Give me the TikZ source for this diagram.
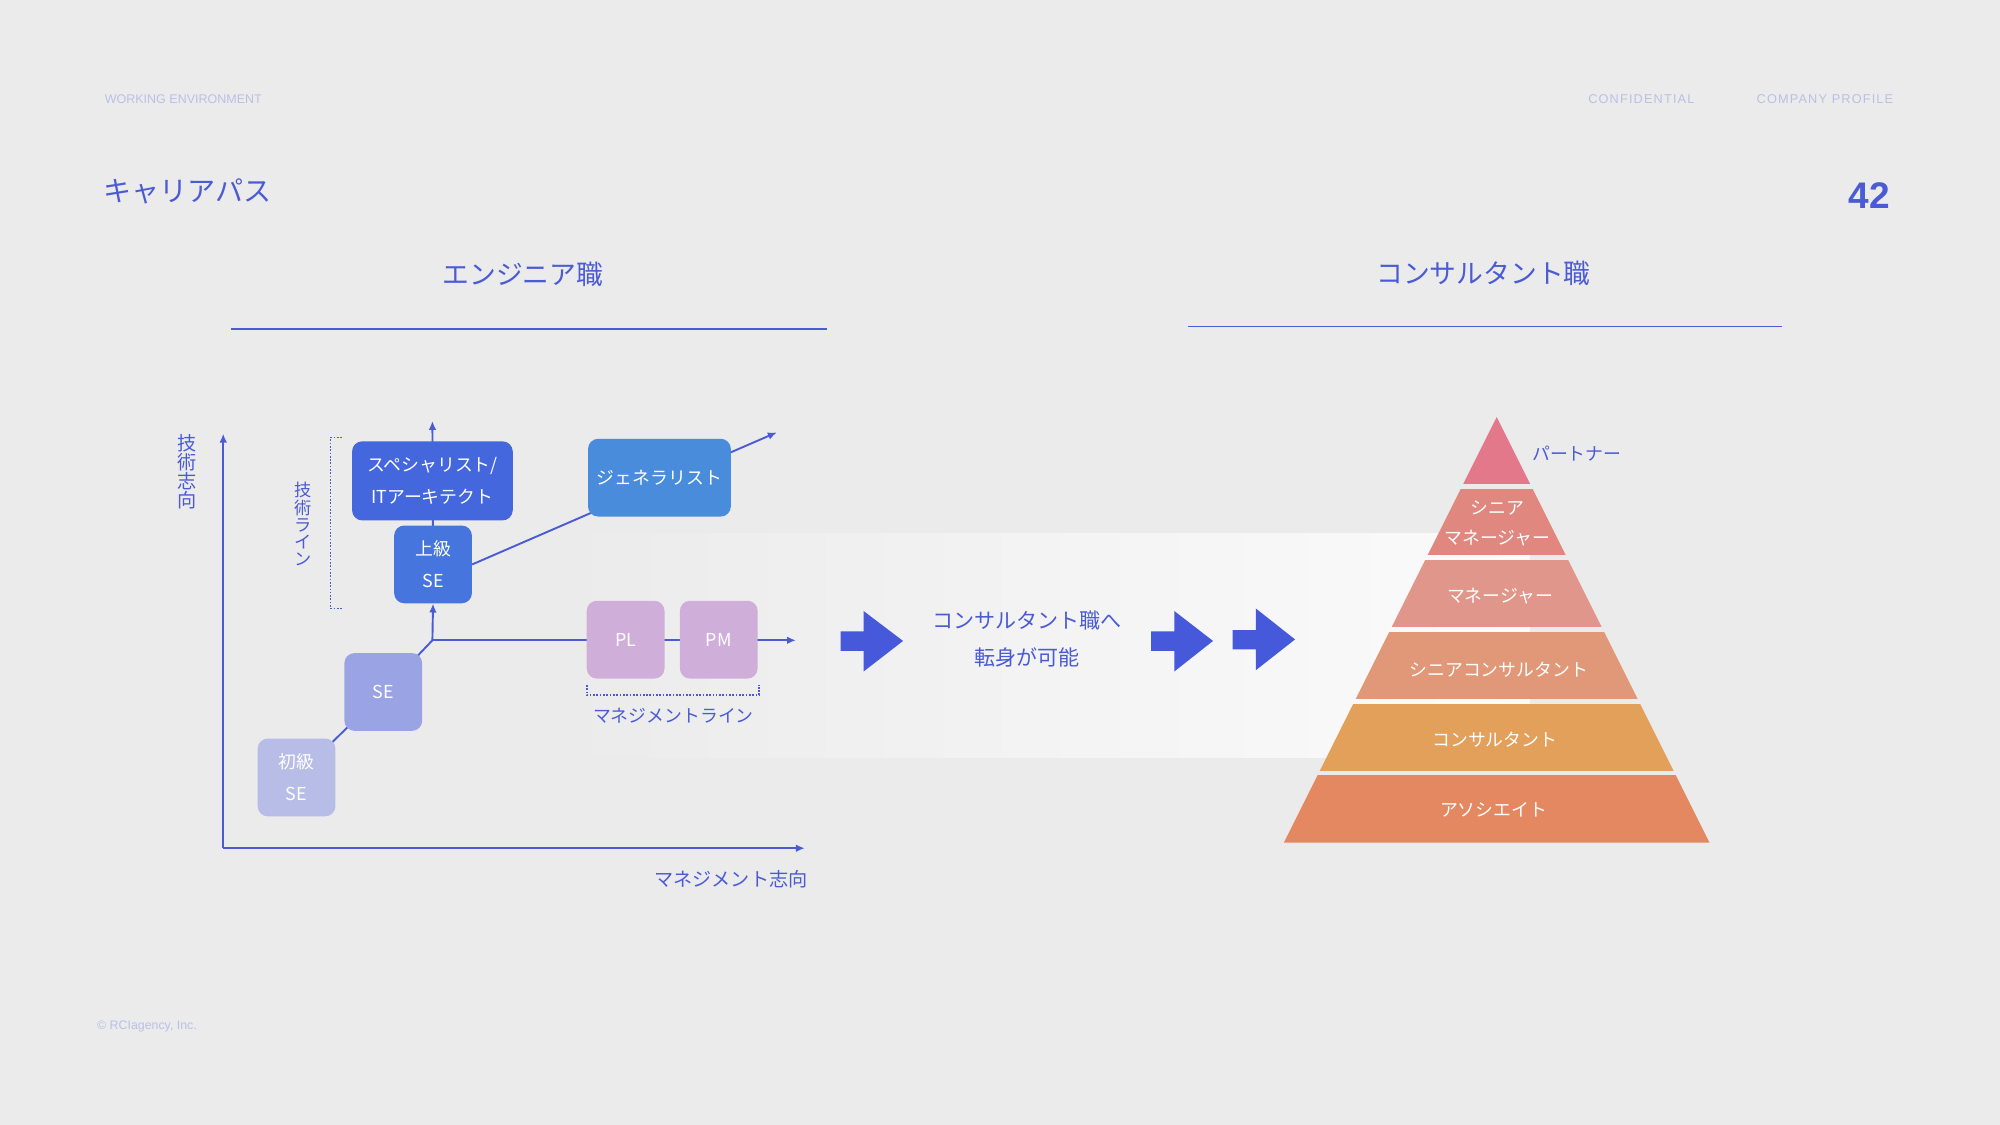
\documentclass[tikz,border=0pt]{standalone}
\usepackage{fontspec}
\setmainfont{Liberation Sans}
\newfontfamily\jp{Noto Sans CJK JP}
\newfontfamily\hdr[LetterSpace=9]{Liberation Sans}
\usetikzlibrary{arrows.meta,calc}
\definecolor{bgc}{HTML}{EBEBEB}
\definecolor{ink}{HTML}{4A5BD4}
\definecolor{arrowc}{HTML}{4659DA}
\definecolor{hdrc}{HTML}{BDBEE6}
\definecolor{specc}{HTML}{4467DE}
\definecolor{seniorc}{HTML}{4675DE}
\definecolor{genc}{HTML}{4A8CDC}
\definecolor{sec}{HTML}{9AA3E3}
\definecolor{juniorc}{HTML}{B7BDE6}
\definecolor{pmc}{HTML}{CFAED9}
\definecolor{pyA}{HTML}{E2788A}
\definecolor{pyB}{HTML}{E0877F}
\definecolor{pyC}{HTML}{E0968A}
\definecolor{pyD}{HTML}{E09878}
\definecolor{pyE}{HTML}{E3A05A}
\definecolor{pyF}{HTML}{E38860}
\definecolor{bandmid}{HTML}{F5F5F5}
\definecolor{bandend}{HTML}{FBFBFB}
\pgfdeclarelayer{back}
\pgfdeclarelayer{behind}
\pgfsetlayers{back,behind,main}
\tikzset{
  box/.style={rounded corners=8pt, minimum width=61pt, minimum height=61pt,
    inner sep=0pt, text=white, align=center, font=\jp\fontsize{14}{25}\selectfont},
  conn/.style={draw=ink, line width=1.5pt},
  arr/.style={conn, -{Latex[length=7pt,width=6pt]}},
  dots/.style={draw=ink, line width=1.2pt, dash pattern=on 1.3pt off 1.3pt},
  lbl/.style={text=ink, inner sep=0pt, font=\jp\fontsize{14}{15}\selectfont},
  vlbl/.style={text=ink, inner sep=0pt, align=center, font=\jp\fontsize{14}{15}\selectfont},
  plbl/.style={text=white, inner sep=0pt, align=center, font=\jp\fontsize{14}{23}\selectfont},
  hdrtxt/.style={text=hdrc, inner sep=0pt, anchor=west, font=\hdr\fontsize{10}{12}\selectfont},
  bigarrow/.style={fill=arrowc},
}
\begin{document}
\begin{tikzpicture}[x=1pt,y=-1pt]
\useasboundingbox (0,0) rectangle (1568,882);

% background and band
\begin{pgfonlayer}{back}
\fill[bgc] (0,0) rectangle (1568,882);
\shade[left color=bgc, right color=bandmid] (440,418) rectangle (900,594);
\shade[left color=bandmid, right color=bandend] (899.5,418) rectangle (1199,594);
\end{pgfonlayer}

% header
\node[hdrtxt, font=\fontsize{9.8}{12}\selectfont] (hdrL) at (82,78) {WORKING ENVIRONMENT};
\node[hdrtxt] (hdrC) at (1245,78) {CONFIDENTIAL};
\node[hdrtxt] (hdrP) at (1377,78) {COMPANY PROFILE};
\node[hdrtxt, font=\fontsize{9.7}{12}\selectfont] (foot) at (76,805) {© RCIagency, Inc.};
\node[text=ink, inner sep=0pt, anchor=west, font=\jp\fontsize{22}{24}\selectfont] (title) at (81,150) {キャリアパス};
\node[text=ink, inner sep=0pt, anchor=east, font=\bfseries\fontsize{29}{30}\selectfont] (pagenum) at (1482,153) {42};

% section headings
\node[text=ink, inner sep=0pt, font=\jp\fontsize{21}{22}\selectfont] (engh) at (410,215) {エンジニア職};
\coordinate (engl1) at (181,258); \coordinate (engl2) at (648,258);
\draw[ink, line width=1pt] (engl1) -- (engl2);
\node[text=ink, inner sep=0pt, font=\jp\fontsize{21}{22}\selectfont] (conh) at (1163,214) {コンサルタント職};
\coordinate (conl1) at (931,256); \coordinate (conl2) at (1397,256);
\draw[ink, line width=1pt] (conl1) -- (conl2);

% axes
\coordinate (origin) at (175,665);
\coordinate (ytop) at (175,340);
\coordinate (xright) at (631,665);
\draw[arr] (origin) -- (ytop);
\draw[arr] (origin) -- (xright);
\node[vlbl, font=\jp\fontsize{15}{15}\selectfont] (ylab) at (147,370) {技\\術\\志\\向};
\node[lbl, font=\jp\fontsize{15}{16}\selectfont] (xlab) at (573,689) {マネジメント志向};

% boxes
\node[box, fill=specc, minimum width=126pt, minimum height=62pt] (spec) at (339,377) {スペシャリスト/\\ITアーキテクト};
\node[box, fill=seniorc] (senior) at (339.5,442.5) {上級\\SE};
\node[box, fill=sec] (se) at (300.5,542.5) {SE};
\node[box, fill=juniorc] (junior) at (232.5,609.5) {初級\\SE};
\node[box, fill=pmc] (pl) at (490.5,501.5) {PL};
\node[box, fill=pmc] (pm) at (563.5,501.5) {PM};
\node[box, fill=genc, minimum width=112pt] (gen) at (517,374.5) {ジェネラリスト};

% connectors
\coordinate (jn) at (339,502);
\coordinate (specup) at (339,330);
\coordinate (pmout) at (624,502);
\coordinate (genout) at (609,339);
\begin{pgfonlayer}{behind}
\draw[arr] (senior.center) -- (specup);
\draw[arr] (jn) -- (pmout);
\draw[arr] (senior.east) -- (genout);
\draw[conn] (jn) -- (se.center);
\draw[conn] (se.center) -- (junior.center);
\end{pgfonlayer}
\draw[arr] (jn) -- (senior.south);

% dotted brackets
\draw[dots] (268,343) -- (259,343) -- (259,477) -- (268,477);
\node[vlbl, font=\jp\fontsize{13.5}{13.5}\selectfont] (techline) at (238,411) {技\\術\\ラ\\イ\\ン};
\draw[dots] (460,537) -- (460,545) -- (595,545) -- (595,537);
\node[lbl] (mgmtline) at (528,561) {マネジメントライン};

% big arrows
\fill[bigarrow] (659,495) -- (677,495) -- (677,479) -- (708,502.5) -- (677,526.5) -- (677,510.2) -- (659,510.2) -- cycle;
\fill[bigarrow] (902.5,495) -- (920.6,495) -- (920.6,479) -- (951,502.5) -- (920.6,526.5) -- (920.6,510.2) -- (902.5,510.2) -- cycle;
\fill[bigarrow] (966.4,494) -- (984.5,494) -- (984.5,477) -- (1015.3,501.3) -- (984.5,525.5) -- (984.5,509.2) -- (966.4,509.2) -- cycle;
\node[text=ink, inner sep=0pt, align=center, font=\jp\fontsize{16.5}{29}\selectfont] (move) at (805,501) {コンサルタント職へ\\転身が可能};

% pyramid
\coordinate (apex) at (1173.4,327);
\coordinate (bl) at (1006.5,660.7);
\coordinate (br) at (1340.3,660.7);
\foreach \t/\b/\c in {327/379/pyA, 383.4/435/pyB, 439.6/491.3/pyC, 495.8/547.5/pyD, 552/603.7/pyE, 608/660.7/pyF}{
  \begin{scope}
    \clip (900,\t) rectangle (1450,\b);
    \fill[\c] (apex) -- (br) -- (bl) -- cycle;
  \end{scope}
}
\node[lbl, anchor=west] (partner) at (1201,356) {パートナー};
\node[plbl] (smgr) at (1174,410.5) {シニア\\マネージャー};
\node[plbl] (mgr) at (1176,467) {マネージャー};
\node[plbl] (scon) at (1175,525) {シニアコンサルタント};
\node[plbl] (con) at (1172,580) {コンサルタント};
\node[plbl] (assoc) at (1171,635) {アソシエイト};
\end{tikzpicture}
\end{document}
